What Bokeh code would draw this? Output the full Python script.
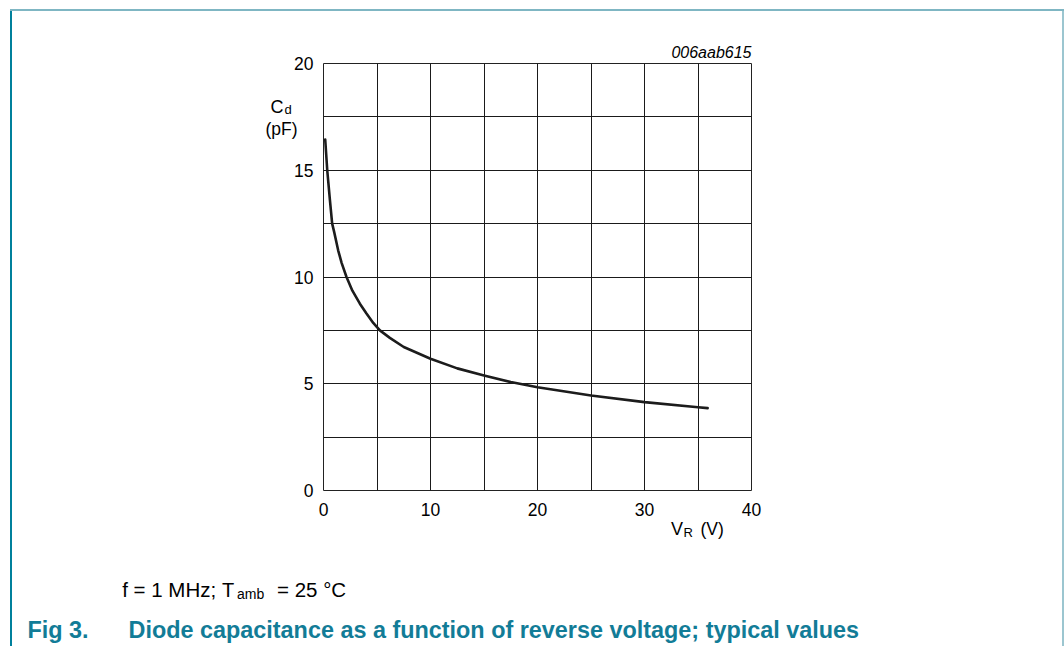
from bokeh.plotting import figure
from bokeh.models import Label, FixedTicker
from bokeh.embed import file_html
from bokeh.resources import INLINE

# ---- data ----
v_r = [0.16, 0.35, 0.6, 0.81, 1.0, 1.37, 1.7, 2.15, 2.7, 3.4, 4.0, 4.65, 5.27,
       6.2, 7.5, 10, 12.5, 15, 17.5, 20, 25, 30, 35, 35.9]
c_d = [16.44, 15.0, 13.6, 12.5, 12.1, 11.25, 10.65, 10.0, 9.36, 8.75, 8.3, 7.85, 7.5,
       7.15, 6.72, 6.17, 5.72, 5.39, 5.08, 4.84, 4.45, 4.14, 3.9, 3.86]
x_ticks = [0, 10, 20, 30, 40]
y_ticks = [0, 5, 10, 15, 20]
x_grid = [0, 5, 10, 15, 20, 25, 30, 35, 40]
y_grid = [0, 2.5, 5, 7.5, 10, 12.5, 15, 17.5, 20]

FONT = "Liberation Sans"
TEAL = "#127c97"

# layout (pixels)
FL, FT, FW, FH = 323, 63, 428, 427
W, H = 1064, 646
p = figure(width=W, height=H, frame_width=FW, frame_height=FH,
           x_range=(0, 40), y_range=(0, 20),
           output_backend="svg", toolbar_location=None,
           min_border_left=FL, min_border_top=FT,
           min_border_right=W - FL - FW, min_border_bottom=H - FT - FH)
p.background_fill_color = "white"
p.border_fill_color = None
p.outline_line_color = "#222222"
p.outline_line_width = 1

# page frame lines (as CSS backgrounds behind the transparent canvas border)
p.styles = {
    "background-color": "white",
    "background-image": ("linear-gradient(#7fb6c3,#7fb6c3), "
                         "linear-gradient(#00809c,#00809c), "
                         "linear-gradient(#9cc6d0,#9cc6d0)"),
    "background-size": "1054px 2px, 2px 636px, 2px 636px",
    "background-position": "10px 9px, 10px 10px, 1062px 10px",
    "background-repeat": "no-repeat",
}

for ax in (p.xaxis[0], p.yaxis[0]):
    ax.major_tick_out = 0
    ax.major_tick_in = 0
    ax.minor_tick_out = 0
    ax.minor_tick_in = 0
    ax.axis_line_color = None
    ax.major_label_text_font = FONT
    ax.major_label_text_font_size = "17.5px"
    ax.major_label_text_color = "black"
p.xaxis.ticker = FixedTicker(ticks=x_ticks)
p.yaxis.ticker = FixedTicker(ticks=y_ticks)
p.xaxis.major_label_standoff = 12
p.yaxis.major_label_standoff = 10

p.xgrid.ticker = FixedTicker(ticks=x_grid)
p.ygrid.ticker = FixedTicker(ticks=y_grid)
for g in (p.xgrid[0], p.ygrid[0]):
    g.grid_line_color = "#1a1a1a"
    g.grid_line_width = 1
    g.grid_line_alpha = 1

p.line(v_r, c_d, line_width=2.6, line_color="#1c1c1c", line_join="round", line_cap="round")

# helpers to convert pixel positions to data coordinates (for annotations)
X0, Y0 = FL, FT + FH
SX, SY = FW / 40.0, FH / 20.0
def dx(px):
    return (px - X0) / SX
def dy(py):
    return (Y0 - py) / SY

def lab(place, txt, px, py, size, align="left", style="normal", color="black"):
    p.add_layout(Label(x=dx(px), y=dy(py), text=txt, text_font=FONT,
                       text_font_size=size, text_align=align, text_baseline="alphabetic",
                       text_font_style=style, text_color=color), place)

# y axis title
lab("left", "C", 270, 106, "18px")
lab("left", "d", 284, 109, "13px")
lab("left", "(pF)", 281, 128, "17.5px", align="center")
# x axis title
lab("right", "V", 670.5, 528, "18px")
lab("right", "R", 683, 531.5, "13px")
lab("right", "(V)", 700, 528, "17.5px")
# figure id
lab("above", "006aab615", 751, 52, "16px", align="right", style="italic")
# conditions
lab("left", "f = 1 MHz;", 121.7, 589, "20.5px")
lab("left", "T", 221.5, 589, "20px")
lab("left", "amb", 236.5, 593, "14px")
lab("left", "= 25 \u00b0C", 276.5, 589, "20.5px")
# caption
lab("below", "Fig 3.", 27, 629, "23.4px", style="bold", color=TEAL)
lab("below", "Diode capacitance as a function of reverse voltage; typical values",
    128, 629, "23.4px", style="bold", color=TEAL)

open("out.html", "w").write(file_html(p, INLINE))
